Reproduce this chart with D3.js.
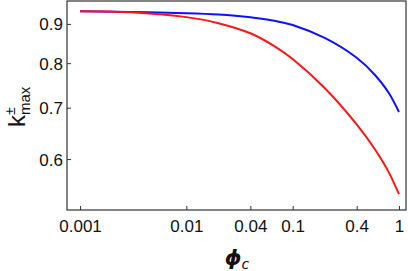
<!DOCTYPE html>
<html>
<head>
<meta charset="utf-8">
<script src="https://cdn.jsdelivr.net/npm/d3@7"></script>
<style>
  html, body { margin: 0; padding: 0; background: #fff; }
  svg { display: block; font-family: "Liberation Sans", Arial, sans-serif; }
</style>
</head>
<body>
<div id="chart"></div>
<script>
// phi_c sample points and the two k_max branches
const phi = [0.001, 0.003, 0.01, 0.02, 0.04, 0.07, 0.1, 0.2, 0.4, 0.6, 0.8, 1];
const kPlus = [0.935, 0.933, 0.929, 0.9255, 0.918, 0.9076, 0.897, 0.863, 0.813, 0.771, 0.732, 0.691];
const kMinus = [0.935, 0.932, 0.9185, 0.902, 0.875, 0.839, 0.810, 0.7426, 0.6656, 0.6165, 0.577, 0.540];
const xTicks = [0.001, 0.01, 0.04, 0.1, 0.4, 1];
const xTickLabels = ["0.001", "0.01", "0.04", "0.1", "0.4", "1"];
const yTicks = [0.6, 0.7, 0.8, 0.9];
const yTickLabels = ["0.6", "0.7", "0.8", "0.9"];

const width = 408, height = 271;
const margin = { top: 1, right: 2, bottom: 61, left: 67 };

const svg = d3.select('#chart').append('svg')
  .attr('width', width)
  .attr('height', height);

const x = d3.scaleLog().domain([0.000754, 1.164]).range([margin.left, width - margin.right]);
const y = d3.scaleLog().domain([0.515, 0.964]).range([height - margin.bottom, margin.top]);

// curves, smooth spline through the read points
const line = d3.line()
  .x((d, i) => x(phi[i]))
  .y(d => y(d))
  .curve(d3.curveNatural);

svg.append('path')
  .datum(kPlus)
  .attr('fill', 'none')
  .attr('stroke', '#1010ff')
  .attr('stroke-width', 2)
  .attr('d', line);

svg.append('path')
  .datum(kMinus)
  .attr('fill', 'none')
  .attr('stroke', '#ff1515')
  .attr('stroke-width', 2)
  .attr('d', line);

// axes (ticks point into the frame)
const xAxis = svg.append('g')
  .attr('transform', `translate(0,${height - margin.bottom})`)
  .call(d3.axisBottom(x).tickValues(xTicks).tickSizeInner(-4).tickSizeOuter(0)
    .tickFormat((d, i) => xTickLabels[i]));

const yAxis = svg.append('g')
  .attr('transform', `translate(${margin.left},0)`)
  .call(d3.axisLeft(y).tickValues(yTicks).tickSizeInner(-4).tickSizeOuter(0)
    .tickFormat((d, i) => yTickLabels[i]));

[xAxis, yAxis].forEach(g => {
  g.select('.domain').remove();
  g.selectAll('.tick line').attr('stroke', '#333');
  g.selectAll('.tick text')
    .attr('fill', '#111')
    .style('font-size', '17px')
    .style('font-family', '"Liberation Sans", Arial, sans-serif');
});
xAxis.selectAll('.tick text').attr('y', 10).attr('dy', '0.71em');
yAxis.selectAll('.tick text').attr('x', -4).attr('dy', '0.35em');

// frame
svg.append('rect')
  .attr('x', margin.left)
  .attr('y', margin.top)
  .attr('width', width - margin.right - margin.left)
  .attr('height', height - margin.bottom - margin.top)
  .attr('fill', 'none')
  .attr('stroke', '#333')
  .attr('stroke-width', 1.2);

// x label: phi_c
const xl = svg.append('text')
  .attr('x', 237)
  .attr('y', 265)
  .attr('text-anchor', 'middle')
  .attr('fill', '#111')
  .style('font-family', '"DejaVu Sans", sans-serif');
xl.append('tspan').text('\u03D5').style('font-size', '21px').style('font-weight', 'bold').style('font-style', 'italic');
xl.append('tspan').text('c').attr('dy', 4).style('font-size', '14px').style('font-style', 'italic');

// y label: k^±_max
const yl = svg.append('g').attr('transform', 'translate(25,127) rotate(-90)');
yl.append('text').attr('x', 0).attr('y', 0).text('k')
  .style('font-size', '24px').attr('fill', '#111');
yl.append('text').attr('x', 12).attr('y', -10).text('\u00B1')
  .style('font-size', '14px').attr('fill', '#111');
yl.append('text').attr('x', 12).attr('y', 5).text('max')
  .style('font-size', '15px').attr('fill', '#111');
</script>
</body>
</html>
